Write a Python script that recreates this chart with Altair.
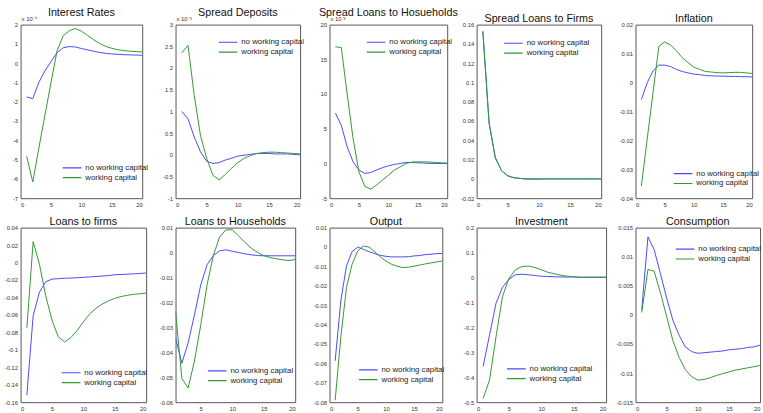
import altair as alt
import pandas as pd

STEPS = list(range(1, 21))
SERIES = ["no working capital", "working capital"]
BLUE = "#4848ff"
GREEN = "#2f9a2f"

# ---------------- data ----------------
titles = ["Interest Rates", "Spread Deposits", "Spread Loans to Hosueholds",
          "Spread Loans to Firms", "Inflation",
          "Loans to firms", "Loans to Households", "Output", "Investment", "Consumption"]

ir_nowc = [-1.75, -1.84, -1.0, -0.4, 0.08, 0.55, 0.8, 0.86, 0.84, 0.76, 0.69, 0.62,
           0.56, 0.51, 0.48, 0.46, 0.44, 0.43, 0.42, 0.41]
ir_wc = [-4.83, -6.16, -4.4, -2.7, -1.0, 0.64, 1.42, 1.68, 1.8, 1.66, 1.44, 1.22,
         1.02, 0.87, 0.77, 0.7, 0.65, 0.62, 0.6, 0.58]

sd_nowc = [1.0, 0.83, 0.41, 0.07, -0.15, -0.2, -0.18, -0.12, -0.08, -0.03, -0.01, 0.01,
           0.03, 0.03, 0.03, 0.02, 0.02, 0.02, 0.01, 0.0]
sd_wc = [2.35, 2.52, 1.37, 0.45, -0.08, -0.47, -0.58, -0.45, -0.31, -0.18, -0.08, -0.02,
         0.03, 0.05, 0.06, 0.06, 0.05, 0.04, 0.03, 0.02]

slh_nowc = [7.24, 5.5, 2.4, 0.25, -0.95, -1.43, -1.3, -0.95, -0.6, -0.33, -0.14, 0.0,
            0.14, 0.14, 0.1, 0.05, 0.02, 0.0, 0.0, 0.0]
slh_wc = [16.8, 16.7, 10.0, 3.6, -1.2, -3.3, -3.7, -3.1, -2.4, -1.7, -0.95, -0.5,
          0.0, 0.2, 0.24, 0.24, 0.2, 0.15, 0.1, 0.05]

slf_nowc = [0.153, 0.058, 0.022, 0.0085, 0.0032, 0.0012, 0.0005, -0.0003, -0.0003, -0.0003,
            0.0, 0.0, 0.0, 0.0, 0.0, 0.0, 0.0, 0.0, 0.0, 0.0]
slf_wc = [0.153, 0.058, 0.022, 0.0085, 0.0032, 0.0012, 0.0005, 0.0002, 0.0001, 0.0,
          0.0, 0.0, 0.0, 0.0, 0.0, 0.0, 0.0, 0.0, 0.0, 0.0]

inf_nowc = [-0.0059, -0.0001, 0.004, 0.006, 0.006, 0.0055, 0.0045, 0.0038, 0.0033, 0.0029,
            0.0027, 0.0024, 0.0023, 0.0022, 0.0022, 0.0021, 0.0021, 0.002, 0.002, 0.0019]
inf_wc = [-0.0358, -0.0196, -0.0035, 0.0125, 0.014, 0.013, 0.0109, 0.0086, 0.0069, 0.0053,
          0.0045, 0.0038, 0.0036, 0.0034, 0.0033, 0.0034, 0.0035, 0.0035, 0.0033, 0.0031]

lf_nowc = [-0.152, -0.061, -0.034, -0.022, -0.019, -0.0185, -0.018, -0.0178, -0.0174, -0.017,
           -0.0165, -0.016, -0.0155, -0.015, -0.014, -0.0137, -0.0133, -0.013, -0.0125, -0.012]
lf_wc = [-0.075, 0.024, -0.002, -0.038, -0.066, -0.085, -0.091, -0.086, -0.078, -0.068,
         -0.059, -0.0525, -0.0475, -0.044, -0.041, -0.039, -0.0375, -0.0365, -0.0358, -0.035]

lh_nowc = [-0.0342, -0.0444, -0.0362, -0.025, -0.013, -0.0049, -0.0012, 0.0007, 0.0011, 0.0005,
           0.0, -0.0005, -0.0009, -0.0012, -0.0013, -0.0013, -0.0013, -0.0013, -0.0013, -0.0013]
lh_wc = [-0.0236, -0.0505, -0.0543, -0.0435, -0.029, -0.013, -0.0012, 0.0063, 0.0091, 0.0091,
         0.0067, 0.0041, 0.0018, 0.0001, -0.0012, -0.002, -0.0025, -0.0029, -0.0032, -0.0028]

out_nowc = [-0.0587, -0.0278, -0.0098, -0.0024, 0.0, -0.0012, -0.0024, -0.0034, -0.0043, -0.0048,
            -0.0051, -0.0051, -0.0051, -0.005, -0.0046, -0.0044, -0.0039, -0.0037, -0.0034, -0.0033]
out_wc = [-0.079, -0.0465, -0.021, -0.0089, -0.002, 0.0005, 0.0, -0.0024, -0.0051, -0.0072,
          -0.0089, -0.0099, -0.0106, -0.0104, -0.0099, -0.0093, -0.0087, -0.0082, -0.0077, -0.0072]

inv_nowc = [-0.357, -0.23, -0.103, -0.039, -0.007, 0.011, 0.013, 0.011, 0.008, 0.005,
            0.004, 0.003, 0.002, 0.002, 0.002, 0.001, 0.001, 0.001, 0.001, 0.001]
inv_wc = [-0.485, -0.411, -0.237, -0.076, -0.003, 0.031, 0.044, 0.046, 0.04, 0.031,
          0.021, 0.015, 0.009, 0.005, 0.003, 0.001, 0.001, 0.001, 0.001, 0.001]

con_nowc = [0.0009, 0.0134, 0.0112, 0.0071, 0.0029, -0.0009, -0.0035, -0.0055, -0.0063, -0.0066,
            -0.0065, -0.0064, -0.0063, -0.0062, -0.006, -0.0059, -0.0058, -0.0056, -0.0055, -0.0052]
con_wc = [0.0004, 0.0078, 0.0075, 0.0038, -0.0003, -0.0044, -0.0073, -0.0094, -0.0106, -0.0112,
          -0.0111, -0.0108, -0.0104, -0.0101, -0.0098, -0.0095, -0.0093, -0.0091, -0.0089, -0.0087]

series_data = [(ir_nowc, ir_wc), (sd_nowc, sd_wc), (slh_nowc, slh_wc), (slf_nowc, slf_wc),
               (inf_nowc, inf_wc), (lf_nowc, lf_wc), (lh_nowc, lh_wc), (out_nowc, out_wc),
               (inv_nowc, inv_wc), (con_nowc, con_wc)]

y_ticks = [
    [-7, -6, -5, -4, -3, -2, -1, 0, 1, 2],
    [-1, -0.5, 0, 0.5, 1, 1.5, 2, 2.5, 3],
    [-5, 0, 5, 10, 15, 20],
    [-0.02, 0, 0.02, 0.04, 0.06, 0.08, 0.1, 0.12, 0.14, 0.16],
    [-0.04, -0.03, -0.02, -0.01, 0, 0.01, 0.02],
    [-0.16, -0.14, -0.12, -0.1, -0.08, -0.06, -0.04, -0.02, 0, 0.02, 0.04],
    [-0.06, -0.05, -0.04, -0.03, -0.02, -0.01, 0, 0.01],
    [-0.08, -0.07, -0.06, -0.05, -0.04, -0.03, -0.02, -0.01, 0, 0.01],
    [-0.5, -0.4, -0.3, -0.2, -0.1, 0, 0.1, 0.2],
    [-0.015, -0.01, -0.005, 0, 0.005, 0.01, 0.015],
]
x_ticks_std = [0, 5, 10, 15, 20]
x_ticks_lh = [5, 10, 15, 20]
exponents = ["x 10\u207b\u2074", "x 10\u207b\u00b3", "x 10\u207b\u00b3", "", "",
             "", "", "", "", ""]

# ---------------- layout / style ----------------
widths = [124, 127, 120, 127, 119, 128, 122, 115, 132, 127]
heights = [177] * 5 + [178] * 5
legend_pos = [(42, 145), (43, 17), (37, 17), (27, 18), (38, 151),
              (41, 147), (32, 145), (29, 144), (30, 143), (40, 21)]
FONT = "Liberation Sans"
LABEL_EXPR = "datum.value < 0 ? '-' + format(-datum.value, '~g') : format(datum.value, '~g')"


def panel(i):
    nowc, wc = series_data[i]
    df = pd.DataFrame({
        "step": STEPS * 2,
        "value": list(nowc) + list(wc),
        "series": [SERIES[0]] * 20 + [SERIES[1]] * 20,
    })
    yt = y_ticks[i]
    xt = x_ticks_lh if i == 6 else x_ticks_std
    xdom = [1, 20] if i == 6 else [0, 20]
    lx, ly = legend_pos[i]
    lines = alt.Chart(df).mark_line(strokeWidth=1, clip=True).encode(
        x=alt.X("step:Q", scale=alt.Scale(domain=xdom, nice=False, zero=False),
                axis=alt.Axis(values=xt, title=None, labelExpr=LABEL_EXPR)),
        y=alt.Y("value:Q", scale=alt.Scale(domain=[yt[0], yt[-1]], nice=False, zero=False),
                axis=alt.Axis(values=yt, title=None, labelExpr=LABEL_EXPR)),
        color=alt.Color("series:N",
                        scale=alt.Scale(domain=SERIES, range=[BLUE, GREEN]),
                        legend=alt.Legend(orient="none", legendX=lx, legendY=ly - 3,
                                          title=None, symbolType="stroke",
                                          symbolSize=361, symbolStrokeWidth=1.2,
                                          labelFontSize=8, labelFont=FONT,
                                          labelColor="#222", clipHeight=8,
                                          rowPadding=2, padding=0, labelOffset=3)),
        order=alt.Order("step:Q"),
    )
    layers = [lines]
    if exponents[i]:
        ex = alt.Chart(pd.DataFrame({"t": [exponents[i]]})).mark_text(
            align="left", baseline="bottom", fontSize=6, font=FONT, color="#333"
        ).encode(x=alt.value(1), y=alt.value(-3), text="t:N")
        layers.append(ex)
    return alt.layer(*layers).properties(
        width=widths[i], height=heights[i],
        title=alt.TitleParams(titles[i], fontSize=11, font=FONT, fontWeight="normal",
                              offset=-2, frame="group", color="#111"),
    )


chart = alt.concat(*[panel(i) for i in range(10)], columns=5, spacing=30,
                   bounds="flush", align="none").resolve_scale(
    color="independent").resolve_legend(color="independent").properties(
    padding={"left": 3, "top": 2, "right": 0, "bottom": 0},
    background="white",
).configure_view(stroke="#555", strokeWidth=1).configure_axis(
    grid=False, domain=False, ticks=False, labelFontSize=6, labelFont=FONT,
    labelColor="#333", labelPadding=3,
)

chart.save("out.html", embed_options={"renderer": "svg", "actions": False})
